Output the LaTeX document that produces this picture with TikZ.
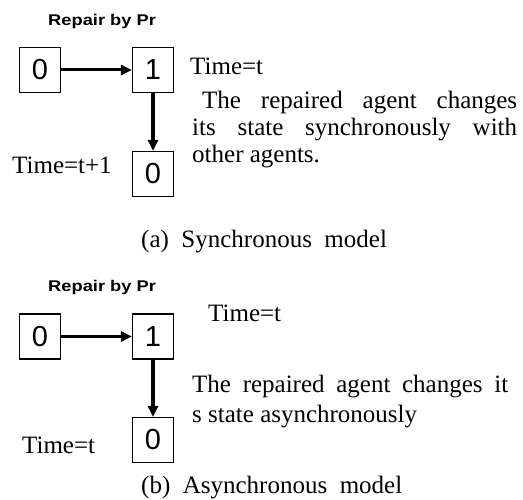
\documentclass[tikz,border=0pt]{standalone}
\usepackage{fontspec}
\setmainfont{Liberation Serif}
\newfontfamily\arialfont{Liberation Sans}
\usetikzlibrary{arrows.meta}
\tikzset{
  state/.style={draw, line width=1.2pt, minimum width=41pt, minimum height=45pt,
    inner sep=0pt, font=\arialfont\fontsize{29}{31}\selectfont},
  flow/.style={line width=3pt, -{Triangle[length=11pt,width=10pt]}},
  downflow/.style={flow, line width=3.6pt},
  serif/.style={anchor=base west, inner sep=0pt, font=\fontsize{25}{30}\selectfont},
  repairlbl/.style={anchor=base west, inner sep=0pt, font=\arialfont\bfseries\fontsize{15.5}{18}\selectfont}
}
\begin{document}
\begin{tikzpicture}[x=1pt,y=-1pt]
\useasboundingbox (0,0) rectangle (523,500);

% ---- (a) synchronous model ----
\node[repairlbl] (ra) at (48,26) {\scalebox{1.18}[1]{Repair by Pr}};
\node[state] (a0) at (40,70) {0};
\node[state] (a1) at (153,70) {1};
\node[state] (a2) at (153,174) {0};
\draw[flow] (a0) -- (a1);
\draw[downflow] (a1) -- (a2);
\node[serif] (at1) at (190,75) {Time=t};
\node[serif] (al1) at (202,109) {\makebox[315pt][s]{The repaired agent changes}};
\node[serif] (al2) at (192,136) {\makebox[325pt][s]{its state synchronously with}};
\node[serif] (al3) at (192,163) {other agents.};
\node[serif] (at2) at (12,174) {Time=t+1};
\node[serif] (capa) at (141,248) {(a)\ \ Synchronous\ \ model};

% ---- (b) asynchronous model ----
\node[repairlbl] (rb) at (48,292) {\scalebox{1.18}[1]{Repair by Pr}};
\node[state] (b0) at (40,336.5) {0};
\node[state] (b1) at (153,336.5) {1};
\node[state] (b2) at (153,440) {0};
\draw[flow] (b0) -- (b1);
\draw[downflow] (b1) -- (b2);
\node[serif] (bt1) at (208,322) {Time=t};
\node[serif] (bl1) at (192,392) {\makebox[316pt][s]{The repaired agent changes it}};
\node[serif] (bl2) at (192,422) {s state asynchronously};
\node[serif] (bt2) at (22,453) {Time=t};
\node[serif] (capb) at (141,493) {(b)\ \ Asynchronous\ \ model};
\end{tikzpicture}
\end{document}
